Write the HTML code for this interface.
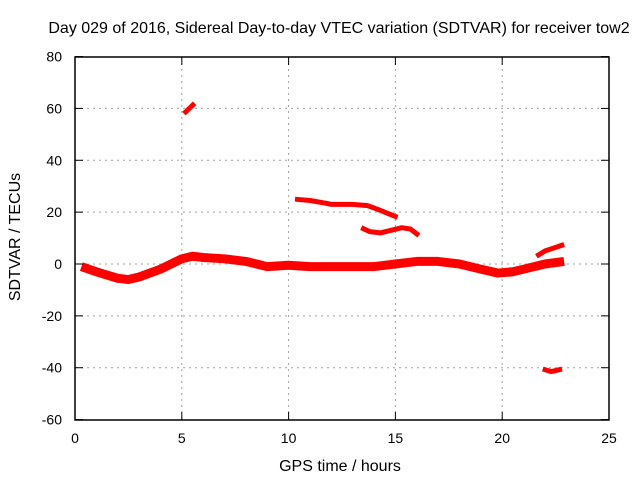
<!DOCTYPE html>
<html><head><meta charset="utf-8"><style>
body{margin:0;background:#fff}
svg{display:block;font-family:"Liberation Sans",sans-serif}
</style></head><body>
<svg id="c" width="640" height="480">
<text x="339" y="33" font-size="16" text-anchor="middle">Day 029 of 2016, Sidereal Day-to-day VTEC variation (SDTVAR) for receiver tow2</text>
<text x="340" y="471" font-size="16" text-anchor="middle">GPS time / hours</text>
<text transform="translate(20,237) rotate(-90)" font-size="16" text-anchor="middle">SDTVAR / TECUs</text>
<g id="grid"></g><g id="marks"></g><g id="ticks"></g>
<rect x="75" y="57" width="534" height="363" fill="none" stroke="#000" stroke-width="1.5"/>
</svg>
<script>
const xTicks=[0,5,10,15,20,25];
const yTicks=[80,60,40,20,0,-20,-40,-60];
const mainTrack=[[0.3,-1],[1,-3],[2,-5.5],[2.5,-6],[3,-5],[4,-2],[5,2],[5.5,3],[6,2.5],[7,2],[8,1],[8.5,0],[9,-1],[10,-0.5],[11,-1],[12,-1],[13,-1],[14,-1],[15,0],[16,1],[17,1],[18,0],[19,-2],[19.8,-3.5],[20.5,-3],[21,-2],[22,0],[22.9,1]];
const arc1=[[5.1,58],[5.6,62]];
const arc2=[[10.3,25],[11,24.5],[11.7,23.5],[12,23],[13,23],[13.7,22.5],[14.2,21],[15.1,18]];
const arc3=[[13.4,14],[13.8,12.5],[14.3,12],[14.8,13],[15.3,14],[15.7,13.5],[16.1,11]];
const arc4=[[21.6,3],[22,5],[22.9,7.5]];
const arc5=[[21.9,-40.5],[22.3,-41.5],[22.8,-40.5]];
const X=v=>75+v/25*534, Y=v=>264-v/140*363;
const NS='http://www.w3.org/2000/svg';
function mk(t,a,p){const e=document.createElementNS(NS,t);for(const k in a)e.setAttribute(k,a[k]);p.appendChild(e);return e;}
const g=document.getElementById('grid'),tk=document.getElementById('ticks'),m=document.getElementById('marks');
xTicks.forEach(v=>{
 if(v>0&&v<25){const l=mk('line',{x1:X(v),x2:X(v),y1:57,y2:420,stroke:'#a0a0a0','stroke-dasharray':'2,4'},g);
 
 }
 const t=mk('text',{x:X(v),y:443,'font-size':14,'text-anchor':'middle'},tk);t.textContent=v;
 
 
 mk('line',{x1:X(v),x2:X(v),y1:420,y2:412,stroke:'#000'},tk);
 mk('line',{x1:X(v),x2:X(v),y1:57,y2:65,stroke:'#000'},tk);
});
yTicks.forEach(v=>{
 if(v<80&&v>-60){const l=mk('line',{x1:75,x2:609,y1:Y(v),y2:Y(v),stroke:'#a0a0a0','stroke-dasharray':'2,4'},g);
 
 }
 const t=mk('text',{x:62,y:Y(v)+5,'font-size':14,'text-anchor':'end'},tk);t.textContent=v;
 
 
 mk('line',{x1:75,x2:83,y1:Y(v),y2:Y(v),stroke:'#000'},tk);
 mk('line',{x1:601,x2:609,y1:Y(v),y2:Y(v),stroke:'#000'},tk);
});
[[mainTrack,9,'main-track'],[arc1,5,'arc-1'],[arc2,5,'arc-2'],[arc3,5,'arc-3'],[arc4,5,'arc-4'],[arc5,5,'arc-5']].forEach(([d,w,n])=>{
 const p=mk('polyline',{points:d.map(q=>X(q[0])+','+Y(q[1])).join(' '),fill:'none',stroke:'#f00','stroke-width':w,'stroke-linejoin':'round'},m);
 
 
});
</script>
</body></html>
